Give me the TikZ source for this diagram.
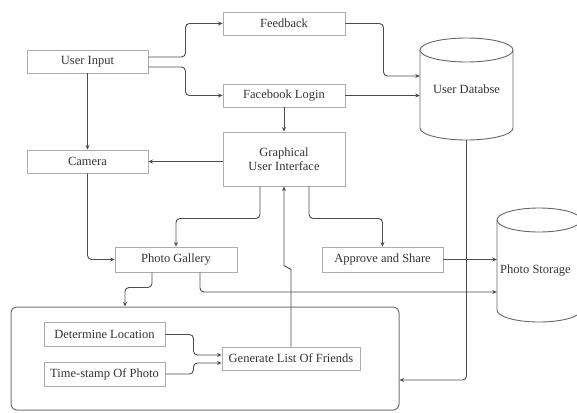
\documentclass[tikz,border=0pt]{standalone}
\usepackage{fontspec}
\setmainfont{Liberation Serif}
\usetikzlibrary{arrows.meta}
\begin{document}
\begin{tikzpicture}[x=1pt,y=-1pt,
  box/.style={draw=gray!65, line width=0.9pt, fill=white, inner sep=0pt, align=center,
    font=\fontsize{12.5}{14}\selectfont, text=black!80},
  conn/.style={draw=black!70, line width=0.9pt, rounded corners=4pt,
    -{Stealth[length=4.5pt,width=4pt]}},
  shp/.style={draw=black!60, line width=0.9pt}]
\useasboundingbox (0,0) rectangle (577,412);
% big container
\node[draw=black!55, line width=1pt, rounded corners=6pt, minimum width=388pt, minimum height=103pt, inner sep=0pt] (big) at (205,358.5) {};
% nodes
\node[box, minimum width=121pt, minimum height=23pt] (ui) at (87.5,61.5) {User Input};
\node[box, minimum width=122pt, minimum height=23pt] (fb) at (284,23.5) {Feedback};
\node[box, minimum width=122pt, minimum height=23pt] (fl) at (284,95.5) {Facebook Login};
\node[box, minimum width=121pt, minimum height=23pt] (cam) at (87.5,161.5) {Camera};
\node[box, minimum width=122pt, minimum height=54pt] (gui) at (284,159) {Graphical\\User Interface};
\node[box, minimum width=122pt, minimum height=25pt] (pg) at (176,259.5) {Photo Gallery};
\node[box, minimum width=121pt, minimum height=25pt] (as) at (382.5,259.5) {Approve and Share};
\node[box, minimum width=121pt, minimum height=24pt] (dl) at (104.5,334.5) {Determine Location};
\node[box, minimum width=121pt, minimum height=24pt] (ts) at (104.5,374) {Time-stamp Of Photo};
\node[box, minimum width=138pt, minimum height=23pt] (gl) at (291,358.5) {Generate List Of Friends};
% cylinders
\draw[shp] (420,50) -- (420,128) arc (180:0:46.5 and 12) -- (513,50);
\draw[shp] (466.5,50) ellipse (46.5 and 12);
\node[inner sep=0pt, minimum width=93pt, minimum height=102pt, font=\fontsize{12.5}{14}\selectfont, text=black!80] (db) at (466.5,89) {User Databse};
\draw[shp] (497,220) -- (497,310) arc (180:0:42 and 12) -- (581,220);
\draw[shp] (539,220) ellipse (42 and 12);
\node[inner sep=0pt, minimum width=84pt, minimum height=114pt, font=\fontsize{12.5}{14}\selectfont, text=black!80] (ps) at (539,265) {};
\node[font=\fontsize{12.5}{14}\selectfont, text=black!80, anchor=west, inner sep=0pt] (pslabel) at (500,271) {Photo Storage};
% connectors
\draw[conn] ([yshift=4.5pt]ui.east) -- ++(37,0) |- (fb.west);
\draw[conn] ([yshift=-5.5pt]ui.east) -- ++(37,0) |- (fl.west);
\draw[conn] (ui.south) -- (cam.north);
\draw[conn] (fb.east) -- ++(38,0) |- ([yshift=13pt]db.west);
\draw[conn] (fl.east) -- (fl.east -| db.west);
\draw[conn] (fl.south) -- (gui.north);
\draw[conn] (gui.west |- cam.east) -- (cam.east);
\draw[conn] (cam.south) |- (pg.west);
\draw[conn] ([xshift=-24pt]gui.south) -- ++(0,32) -| (pg.north);
\draw[conn] ([xshift=25pt]gui.south) -- ++(0,32) -| (as.north);
\draw[conn] (as.east) -- (as.east -| ps.west);
\draw[conn] ([xshift=24pt]pg.south) |- ([yshift=-27pt]ps.west);
\draw[conn] ([xshift=-24pt]pg.south) -- ++(0,15) -| ([xshift=-80pt]big.north);
\draw[conn, rounded corners=0pt] (gl.north) -- ++(0,-77) -- ++(-7,-4) -- (gui.south);
\draw[conn] (db.south) |- ([yshift=-21.5pt]big.east);
\draw[conn] (dl.east) -- ++(28,0) |- ([yshift=3.5pt]gl.west);
\draw[conn] (ts.east) -- ++(28,0) |- ([yshift=-4.5pt]gl.west);
\end{tikzpicture}
\end{document}
